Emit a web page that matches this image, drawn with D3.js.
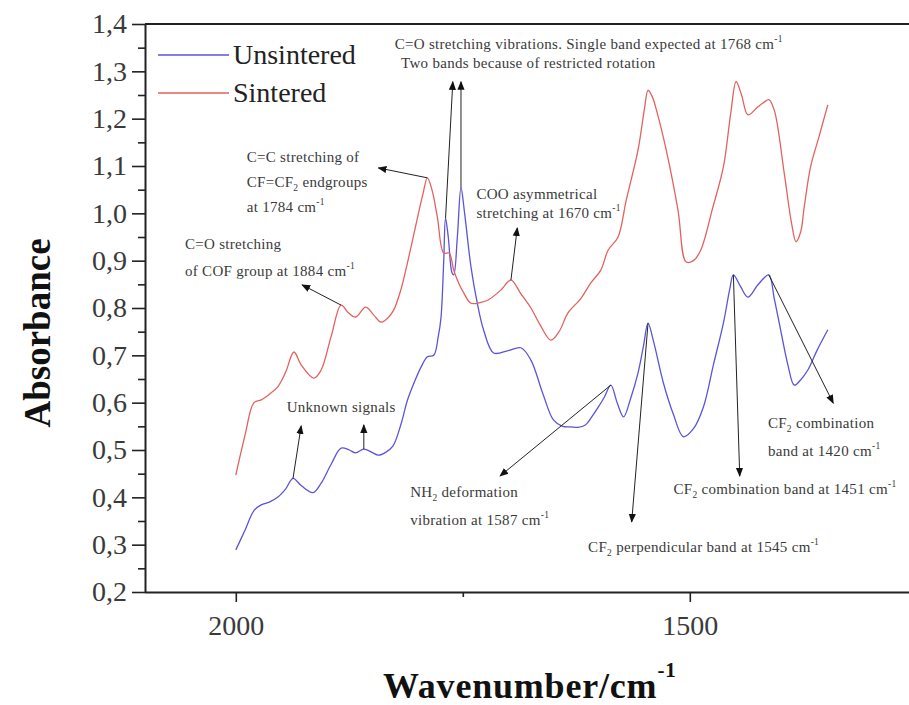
<!DOCTYPE html>
<html>
<head>
<meta charset="utf-8">
<script src="https://cdn.jsdelivr.net/npm/d3@7"></script>
<style>
  html, body { margin: 0; padding: 0; background: #fff; }
  svg { display: block; }
  text { font-family: "Liberation Serif", "DejaVu Serif", serif; }
</style>
</head>
<body>
<svg id="chart" width="909" height="705"></svg>
<script>
// FTIR spectra, wavenumber (cm^-1) vs absorbance
const unsinteredWave = [2000,1990,1980,1972,1963,1954,1945,1937,1928,1915,1906,1895,1884,1875,1868,1859,1850,1843,1835,1827,1818,1811,1803,1796,1789,1782,1777,1774,1771,1769,1766,1762,1760,1756,1752,1748,1741,1734,1727,1716,1700,1686,1675,1662,1650,1640,1631,1623,1615,1608,1601,1594,1587,1580,1573,1565,1557,1551,1546,1540,1529,1518,1507,1496,1485,1474,1463,1456,1452,1444,1436,1425,1413,1407,1400,1392,1385,1378,1370,1360,1348];
const unsinteredAbs  = [0.289,0.33,0.372,0.384,0.39,0.40,0.418,0.44,0.425,0.41,0.43,0.47,0.504,0.50,0.494,0.502,0.495,0.489,0.495,0.508,0.555,0.605,0.645,0.675,0.697,0.70,0.74,0.78,0.90,0.99,0.95,0.875,0.87,0.95,1.054,1.00,0.887,0.81,0.753,0.705,0.71,0.716,0.69,0.62,0.563,0.55,0.549,0.548,0.553,0.57,0.59,0.612,0.637,0.60,0.57,0.61,0.663,0.72,0.768,0.73,0.641,0.575,0.528,0.545,0.591,0.68,0.768,0.84,0.87,0.845,0.823,0.849,0.87,0.82,0.754,0.68,0.637,0.648,0.669,0.71,0.754];

const sinteredWave = [2000,1990,1980,1972,1963,1954,1945,1936,1928,1914,1906,1895,1884,1876,1868,1857,1848,1840,1833,1826,1818,1811,1800,1794,1789,1784,1778,1771,1765,1760,1754,1749,1741,1730,1722,1708,1697,1686,1675,1665,1653,1644,1634,1620,1609,1598,1590,1579,1570,1557,1550,1546,1541,1537,1526,1513,1504,1496,1488,1475,1463,1455,1449,1443,1436,1425,1418,1413,1407,1396,1388,1383,1378,1374,1367,1358,1348];
const sinteredAbs  = [0.447,0.53,0.60,0.606,0.618,0.633,0.665,0.707,0.68,0.652,0.669,0.74,0.806,0.79,0.781,0.802,0.785,0.77,0.778,0.796,0.84,0.895,0.99,1.04,1.075,1.05,0.992,0.916,0.916,0.88,0.85,0.832,0.81,0.812,0.817,0.838,0.859,0.83,0.80,0.765,0.732,0.75,0.79,0.82,0.853,0.88,0.922,0.95,1.028,1.134,1.22,1.26,1.245,1.22,1.134,1.007,0.897,0.90,0.922,1.01,1.098,1.21,1.278,1.25,1.208,1.225,1.235,1.24,1.218,1.085,0.98,0.94,0.96,1.013,1.098,1.16,1.229];

const seriesNames = ["Unsintered", "Sintered"];
const seriesColors = ["#5a55d8", "#e2625e"];

const yMajorTicks = [0.2,0.3,0.4,0.5,0.6,0.7,0.8,0.9,1.0,1.1,1.2,1.3,1.4];
const yMinorTicks = [0.25,0.35,0.45,0.55,0.65,0.75,0.85,0.95,1.05,1.15,1.25,1.35];
const xMajorTicks = [2000, 1500];
const xMinorTicks = [1750, 1250];

// Band annotations: arrow from a spectral feature (from) to a tip (to), plus label lines
const annotations = [
  { from: [1769, 0.99], to: [1761, 1.278], lines: [] },
  { from: [1752, 1.054], to: [1752, 1.278],
    lines: [ { at: [1825, 1.347], text: "C=O stretching vibrations. Single band expected at 1768 cm^{-1}" },
             { at: [1818, 1.307], text: "Two bands because of restricted rotation" } ] },
  { from: [1789, 1.075], to: [1843, 1.096],
    lines: [ { at: [1988, 1.108], text: "C=C stretching of" },
             { at: [1988, 1.056], text: "CF=CF_{2} endgroups" },
             { at: [1988, 1.003], text: "at 1784 cm^{-1}" } ] },
  { from: [1884, 0.806], to: [1927, 0.849],
    lines: [ { at: [2056, 0.925], text: "C=O stretching" },
             { at: [2056, 0.868], text: "of COF group at 1884 cm^{-1}" } ] },
  { from: [1697, 0.859], to: [1690, 0.969],
    lines: [ { at: [1735, 1.030], text: "COO asymmetrical" },
             { at: [1735, 0.990], text: "stretching at 1670 cm^{-1}" } ] },
  { from: [1937, 0.44], to: [1928, 0.551],
    lines: [ { at: [1944, 0.580], text: "Unknown signals" } ] },
  { from: [1859, 0.502], to: [1859, 0.553], lines: [] },
  { from: [1587, 0.637], to: [1709, 0.445],
    lines: [ { at: [1808, 0.401], text: "NH_{2} deformation" },
             { at: [1808, 0.342], text: "vibration at 1587 cm^{-1}" } ] },
  { from: [1546, 0.768], to: [1564, 0.348],
    lines: [ { at: [1612, 0.285], text: "CF_{2} perpendicular band at 1545 cm^{-1}" } ] },
  { from: [1452, 0.87], to: [1445, 0.445],
    lines: [ { at: [1518, 0.407], text: "CF_{2} combination band at 1451 cm^{-1}" } ] },
  { from: [1413, 0.87], to: [1342, 0.599],
    lines: [ { at: [1414, 0.546], text: "CF_{2} combination" },
             { at: [1414, 0.487], text: "band at 1420 cm^{-1}" } ] }
];

const svg = d3.select("#chart");
const W = 909, H = 705;
const plot = { left: 145, top: 24, bottom: 592 };

svg.append("rect").attr("width", W).attr("height", H).attr("fill", "#fff");

const x = d3.scaleLinear().domain([2100, 1250]).range([plot.left, plot.left + 850 * 0.908]);
const y = d3.scaleLinear().domain([0.2, 1.4]).range([plot.bottom, plot.top]);

const fmt = v => d3.format(".1f")(v).replace(".", ",");

// arrowhead
svg.append("defs").append("marker")
  .attr("id", "arrow").attr("viewBox", "0 0 10 10")
  .attr("refX", 9).attr("refY", 5)
  .attr("markerWidth", 9).attr("markerHeight", 9)
  .attr("markerUnits", "userSpaceOnUse")
  .attr("orient", "auto")
  .append("path").attr("d", "M0,1 L10,5 L0,9 Z").attr("fill", "#111");

// frame: top border
svg.append("line")
  .attr("x1", plot.left).attr("x2", W + 10)
  .attr("y1", plot.top).attr("y2", plot.top)
  .attr("stroke", "#222").attr("stroke-width", 2);

// y axis
const yAxis = svg.append("g").attr("transform", `translate(${plot.left},0)`)
  .call(d3.axisLeft(y).tickValues(yMajorTicks).tickSize(13).tickPadding(5).tickFormat(fmt));
svg.append("g").attr("transform", `translate(${plot.left},0)`)
  .call(d3.axisLeft(y).tickValues(yMinorTicks).tickSize(7).tickFormat(""))
  .call(g => g.select(".domain").remove());

// x axis
const xAxis = svg.append("g").attr("transform", `translate(0,${plot.bottom})`)
  .call(d3.axisBottom(x).tickValues(xMajorTicks).tickSize(10).tickPadding(13).tickFormat(d3.format("d")));
svg.append("g").attr("transform", `translate(0,${plot.bottom})`)
  .call(d3.axisBottom(x).tickValues(xMinorTicks).tickSize(5).tickFormat(""))
  .call(g => g.select(".domain").remove());

svg.selectAll(".tick line").attr("stroke", "#222").attr("stroke-width", 1.6);
svg.selectAll(".domain").attr("stroke", "#222").attr("stroke-width", 2);
svg.selectAll(".tick text")
  .attr("font-family", "Liberation Serif, serif")
  .attr("font-size", 28).attr("fill", "#3a3a3a");
xAxis.select(".domain").attr("d", `M${plot.left},0.5H${W + 10}`);
yAxis.select(".domain").attr("d", `M0.5,${plot.bottom}V${plot.top}`);

// spectra
const series = [
  { name: seriesNames[0], color: seriesColors[0], pts: unsinteredWave.map((w, i) => [w, unsinteredAbs[i]]) },
  { name: seriesNames[1], color: seriesColors[1], pts: sinteredWave.map((w, i) => [w, sinteredAbs[i]]) }
];
const line = d3.line().x(d => x(d[0])).y(d => y(d[1])).curve(d3.curveCatmullRom.alpha(0.5));
svg.append("g").selectAll("path").data(series).join("path")
  .attr("d", d => line(d.pts))
  .attr("fill", "none").attr("stroke", d => d.color).attr("stroke-width", 1.3);

// legend
const legend = svg.append("g");
series.forEach((s, i) => {
  const ly = 55 + i * 38;
  legend.append("line").attr("x1", 158).attr("x2", 229).attr("y1", ly).attr("y2", ly)
    .attr("stroke", s.color).attr("stroke-width", 1.3);
  legend.append("text").attr("x", 233).attr("y", ly + 9)
    .attr("font-size", 28).attr("fill", "#222").text(s.name);
});

// rich text helper: _{..} subscript, ^{..} superscript
function richText(sel, str) {
  const re = /([_^])\{([^}]*)\}/g;
  let last = 0, m;
  const parts = [];
  while ((m = re.exec(str)) !== null) {
    if (m.index > last) parts.push({ t: str.slice(last, m.index), k: "n" });
    parts.push({ t: m[2], k: m[1] === "_" ? "sub" : "sup" });
    last = re.lastIndex;
  }
  if (last < str.length) parts.push({ t: str.slice(last), k: "n" });
  let shift = 0;
  parts.forEach(p => {
    const ts = sel.append("tspan").text(p.t);
    let target = p.k === "sub" ? 4 : p.k === "sup" ? -7 : 0;
    ts.attr("dy", target - shift);
    shift = target;
    if (p.k !== "n") ts.attr("font-size", 9.5);
  });
}

// annotations
const ann = svg.append("g");
annotations.forEach(a => {
  ann.append("line")
    .attr("x1", x(a.from[0])).attr("y1", y(a.from[1]))
    .attr("x2", x(a.to[0])).attr("y2", y(a.to[1]))
    .attr("stroke", "#222").attr("stroke-width", 1)
    .attr("marker-end", "url(#arrow)");
  a.lines.forEach(l => {
    const t = ann.append("text").attr("x", x(l.at[0])).attr("y", y(l.at[1]))
      .attr("font-size", 15).attr("letter-spacing", 0.3).attr("fill", "#3a3a3a");
    richText(t, l.text);
  });
});

// axis titles
svg.append("text")
  .attr("transform", `translate(50,${(plot.top + plot.bottom) / 2 + 25}) rotate(-90)`)
  .attr("text-anchor", "middle").attr("font-size", 37).attr("font-weight", "bold")
  .attr("fill", "#111").text("Absorbance");

const xt = svg.append("text").attr("x", 383).attr("y", 698)
  .attr("font-size", 36).attr("letter-spacing", 0.8).attr("font-weight", "bold").attr("fill", "#111");
xt.append("tspan").text("Wavenumber/cm");
xt.append("tspan").attr("dy", -21).attr("font-size", 21).text("-1");
</script>
</body>
</html>
